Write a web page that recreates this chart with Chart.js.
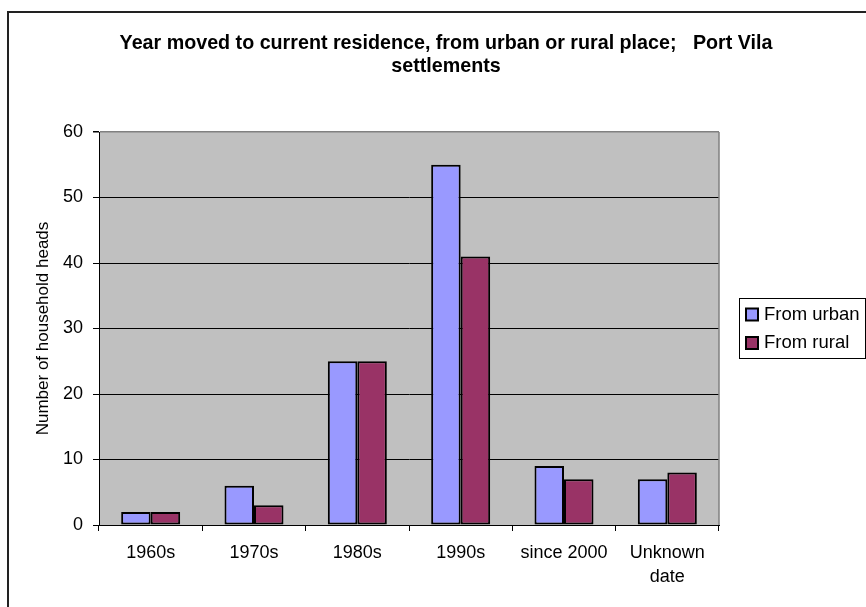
<!DOCTYPE html>
<html>
<head>
<meta charset="utf-8">
<title>Year moved to current residence</title>
<script src="https://cdn.jsdelivr.net/npm/chart.js@4.4.1/dist/chart.umd.min.js"></script>
<style>
  body { margin: 0; background: #fff; }
  canvas { display: block; }
</style>
</head>
<body>
<canvas id="chart" width="866" height="607"></canvas>
<script>
const categories = ["1960s", "1970s", "1980s", "1990s", "since 2000", ["Unknown", "date"]];
const fromUrban = [2, 6, 25, 55, 9, 7];
const fromRural = [2, 3, 25, 41, 7, 8];
const yTicks = [0, 10, 20, 30, 40, 50, 60];
const seriesNames = ["From urban", "From rural"];
const seriesColors = ["#9999FF", "#993366"];

const titleLines = ["Year moved to current residence, from urban or rural place;   Port Vila", "settlements"];
const FONT = "'Liberation Sans', Arial, sans-serif";

Chart.defaults.font.family = FONT;
Chart.defaults.color = "#000";

// frame, plot background, title and legend box
const excelFrame = {
  id: "excelFrame",
  beforeDraw(chart) {
    const { ctx, chartArea: a } = chart;
    ctx.save();
    ctx.fillStyle = "#fff";
    ctx.fillRect(0, 0, chart.width, chart.height);
    ctx.fillStyle = "#C0C0C0";
    ctx.fillRect(a.left, a.top, a.right - a.left, a.bottom - a.top);
    ctx.restore();
  },
  afterDraw(chart) {
    const { ctx, chartArea: a } = chart;
    ctx.save();
    // outer border
    ctx.strokeStyle = "#222";
    ctx.lineWidth = 2;
    ctx.beginPath();
    ctx.moveTo(8, chart.height + 5);
    ctx.lineTo(8, 12);
    ctx.lineTo(chart.width + 5, 12);
    ctx.stroke();

    // right edge of plot
    ctx.strokeStyle = "#808080";
    ctx.lineWidth = 1.5;
    ctx.beginPath();
    ctx.moveTo(a.right, a.top);
    ctx.lineTo(a.right, a.bottom);
    ctx.stroke();

    // title
    ctx.fillStyle = "#000";
    ctx.font = "bold 19.7px " + FONT;
    ctx.textAlign = "center";
    ctx.textBaseline = "middle";
    ctx.fillText(titleLines[0], 446, 44);
    ctx.fillText(titleLines[1], 446, 67);

    // legend
    ctx.strokeStyle = "#000";
    ctx.lineWidth = 1;
    ctx.strokeRect(739.5, 298.5, 126, 60);
    ctx.font = "18.5px " + FONT;
    ctx.textAlign = "left";
    const rows = [314.5, 343];
    chart.data.datasets.forEach((ds, i) => {
      const y = rows[i];
      ctx.fillStyle = ds.backgroundColor;
      ctx.fillRect(746, y - 6, 12, 12);
      ctx.lineWidth = 2;
      ctx.strokeRect(746, y - 6, 12, 12);
      ctx.fillStyle = "#000";
      ctx.fillText(ds.label, 764, y);
    });
    ctx.restore();
  }
};

new Chart(document.getElementById("chart"), {
  type: "bar",
  data: {
    labels: categories,
    datasets: [
      {
        label: seriesNames[0],
        data: fromUrban,
        backgroundColor: seriesColors[0],
        borderColor: "#000",
        borderWidth: 2,
        borderSkipped: false,
      },
      {
        label: seriesNames[1],
        data: fromRural,
        backgroundColor: seriesColors[1],
        borderColor: "#000",
        borderWidth: 2,
        borderSkipped: false,
      },
    ],
  },
  options: {
    responsive: false,
    animation: false,
    categoryPercentage: 0.571,
    barPercentage: 1.0,
    layout: {
      padding: { left: 0, top: 132, right: 147, bottom: 0 },
    },
    plugins: {
      legend: { display: false },
      title: { display: false },
      tooltip: { enabled: false },
    },
    scales: {
      x: {
        afterFit: (scale) => { scale.height = 82; },
        border: { color: "#000", width: 1 },
        grid: {
          drawOnChartArea: false,
          tickLength: 6,
          tickColor: "#000",
          offset: true,
        },
        ticks: {
          font: { size: 18, lineHeight: 1.333 },
          padding: 10,
          maxRotation: 0,
          autoSkip: false,
        },
      },
      y: {
        min: 0,
        max: 60,
        afterFit: (scale) => { scale.width = 99; },
        afterBuildTicks: (scale) => { scale.ticks = yTicks.map((v) => ({ value: v })); },
        border: { color: "#000", width: 1 },
        grid: {
          color: (c) => (c.tick && c.tick.value === 60 ? "#808080" : "#000"),
          lineWidth: (c) => (c.tick && c.tick.value === 60 ? 1.5 : 1),
          tickColor: "#000",
          tickLength: 6,
        },
        ticks: {
          font: { size: 18 },
          padding: 10,
        },
        title: {
          display: true,
          text: "Number of household heads",
          font: { size: 17 },
          padding: { top: 33, bottom: 0 },
        },
      },
    },
  },
  plugins: [excelFrame],
});
</script>
</body>
</html>
